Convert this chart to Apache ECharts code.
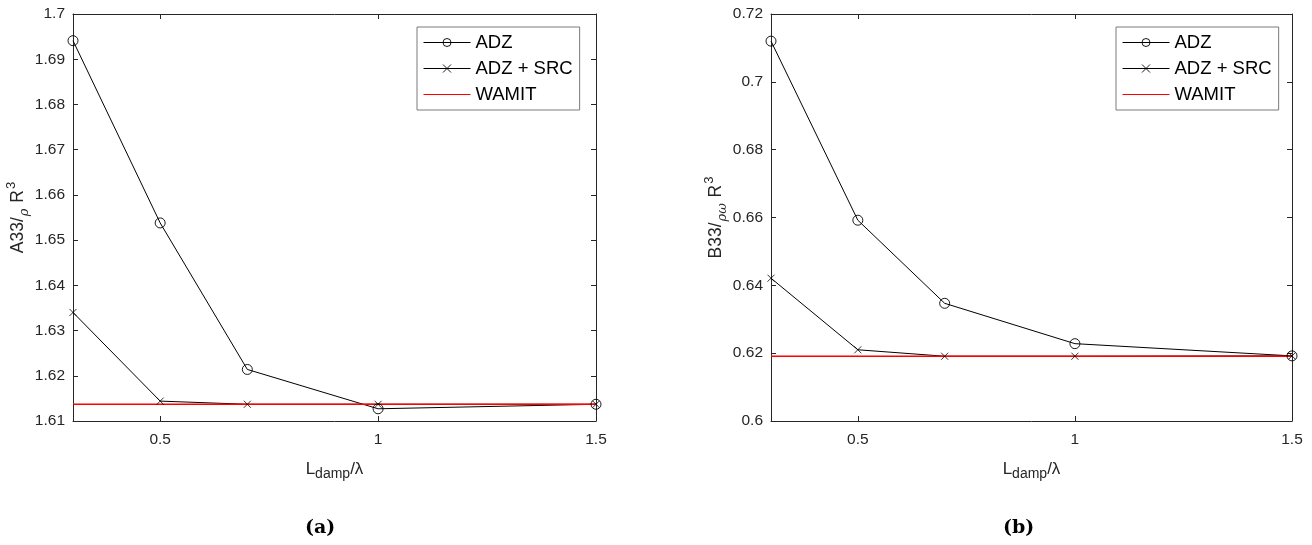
<!DOCTYPE html>
<html>
<head>
<meta charset="utf-8">
<script src="https://cdn.jsdelivr.net/npm/echarts@6/dist/echarts.min.js"></script>
<style>
html,body{margin:0;padding:0;background:#fff;}
#c{width:1312px;height:545px;}
</style>
</head>
<body>
<div id="c"></div>
<script>
// ---- data ----
const xVals = [0.3, 0.5, 0.7, 1.0, 1.5];
const adzA = [1.6941, 1.6538, 1.6214, 1.6127, 1.6137];
const srcA = [1.6340, 1.6144, 1.6137, 1.6137, 1.6137];
const wamitA = 1.6137;
const adzB = [0.7120, 0.6592, 0.6347, 0.6228, 0.6192];
const srcB = [0.6421, 0.6210, 0.6191, 0.6191, 0.6192];
const wamitB = 0.6191;
const xTicks = [0.5, 1, 1.5];
const xRange = [0.3, 1.5];
const yRangeA = [1.61, 1.70], yStepA = 0.01;
const yRangeB = [0.60, 0.72], yStepB = 0.02;
const seriesNames = ['ADZ', 'ADZ + SRC', 'WAMIT'];
const captions = ['(a)', '(b)'];

const FONT = 'Liberation Sans, Arial, sans-serif';
const AX = '#262626';
const pair = (xs, ys) => xs.map((x, i) => [x, ys[i]]);
const crossPath = 'path://M0,0L10,10M10,0L0,10';

function xAxes(gridIndex) {
  const common = {
    type: 'value', gridIndex, min: xRange[0], max: xRange[1],
    axisLine: {show: true, lineStyle: {color: AX, width: 1}},
    splitLine: {show: false},
    axisTick: {show: true, inside: true, length: 5, customValues: xTicks, lineStyle: {color: AX}},
  };
  return [
    Object.assign({}, common, {
      position: 'bottom',
      axisLabel: {show: true, customValues: xTicks, fontSize: 15.5, color: AX, fontFamily: FONT, margin: 11},
      name: '{n|L}{s|damp}{n|/λ}',
      nameLocation: 'middle', nameGap: 36,
      nameTextStyle: {
        rich: {
          n: {fontSize: 17, fontFamily: FONT, color: AX, lineHeight: 24, verticalAlign: 'middle'},
          s: {fontSize: 14, fontFamily: FONT, color: AX, lineHeight: 14, verticalAlign: 'bottom'}
        }
      }
    }),
    Object.assign({}, common, {position: 'top', axisLabel: {show: false}})
  ];
}

function yAxes(gridIndex, range, step, nameParts, gap) {
  const common = {
    type: 'value', gridIndex, min: range[0], max: range[1], interval: step,
    axisLine: {show: true, lineStyle: {color: AX, width: 1}},
    splitLine: {show: false},
    axisTick: {show: true, inside: true, length: 5, lineStyle: {color: AX}},
  };
  return [
    Object.assign({}, common, {
      position: 'left',
      axisLabel: {show: true, fontSize: 15.5, color: AX, fontFamily: FONT, margin: 8},
      name: '{n|' + nameParts[0] + '}{s|' + nameParts[1] + '}{n|' + nameParts[2] + '}{p|3}',
      nameLocation: 'middle', nameGap: gap, nameRotate: 90,
      nameTextStyle: {
        rich: {
          n: {fontSize: 17.5, fontFamily: FONT, color: AX, lineHeight: 26, verticalAlign: 'middle'},
          s: {fontSize: 13, fontFamily: 'DejaVu Serif, serif', fontStyle: 'italic', color: AX, lineHeight: 13, verticalAlign: 'bottom', padding: [0, 1, 0, 1]},
          p: {fontSize: 13, fontFamily: FONT, color: AX, lineHeight: 13, verticalAlign: 'top', padding: [0, 0, 0, 1]}
        }
      }
    }),
    Object.assign({}, common, {position: 'right', axisLabel: {show: false}})
  ];
}

function seriesFor(gi, adz, src, wamit) {
  return [
    {
      name: seriesNames[0], type: 'line', xAxisIndex: gi * 2, yAxisIndex: gi * 2,
      data: pair(xVals, adz), symbol: 'circle', symbolSize: 10,
      lineStyle: {color: '#000', width: 1}, itemStyle: {color: 'rgba(255,255,255,0)', borderColor: '#000', borderWidth: 0.9},
      animation: false
    },
    {
      name: seriesNames[1], type: 'line', xAxisIndex: gi * 2, yAxisIndex: gi * 2,
      data: pair(xVals, src), symbol: crossPath, symbolSize: 7,
      lineStyle: {color: '#000', width: 1}, itemStyle: {color: 'none', borderColor: '#000', borderWidth: 0.8},
      animation: false
    },
    {
      name: seriesNames[2], type: 'line', xAxisIndex: gi * 2, yAxisIndex: gi * 2,
      data: [[xRange[0], wamit], [xRange[1], wamit]], symbol: 'none', showSymbol: false,
      lineStyle: {color: '#ff0000', width: 1.5}, itemStyle: {color: '#ff0000'},
      animation: false
    }
  ];
}

function legendAt(left) {
  return {
    data: [
      {name: seriesNames[0]},
      {name: seriesNames[1]},
      {name: seriesNames[2], itemStyle: {opacity: 0}}
    ],
    orient: 'vertical', left: left, top: 27,
    padding: [6, 7, 6, 6], itemGap: 7, itemWidth: 47, itemHeight: 10,
    backgroundColor: '#fff', borderColor: '#7a7a7a', borderWidth: 1,
    lineStyle: {width: 1},
    itemStyle: {borderWidth: 0.9},
    textStyle: {fontSize: 18.5, fontFamily: FONT, color: '#000', lineHeight: 19},
    selectedMode: false
  };
}

const chart = echarts.init(document.getElementById('c'), null, {renderer: 'canvas'});
chart.setOption({
  backgroundColor: '#fff',
  animation: false,
  grid: [
    {left: 73, right: 1312 - 596, top: 14, bottom: 545 - 421},
    {left: 771, right: 1312 - 1292, top: 14, bottom: 545 - 421}
  ],
  xAxis: [].concat(xAxes(0), xAxes(1)),
  yAxis: [].concat(
    yAxes(0, yRangeA, yStepA, ['A33/', 'ρ', ' R'], 38),
    yAxes(1, yRangeB, yStepB, ['B33/', 'ρω', ' R'], 38)
  ),
  legend: [legendAt(417), legendAt(1116)],
  series: [].concat(seriesFor(0, adzA, srcA, wamitA), seriesFor(1, adzB, srcB, wamitB)),
  graphic: [
    {type: 'text', left: 305, top: 519, style: {text: captions[0], font: 'bold 19px "DejaVu Serif", serif', fill: '#000'}},
    {type: 'text', left: 1003, top: 519, style: {text: captions[1], font: 'bold 19px "DejaVu Serif", serif', fill: '#000'}}
  ]
});
</script>
</body>
</html>
